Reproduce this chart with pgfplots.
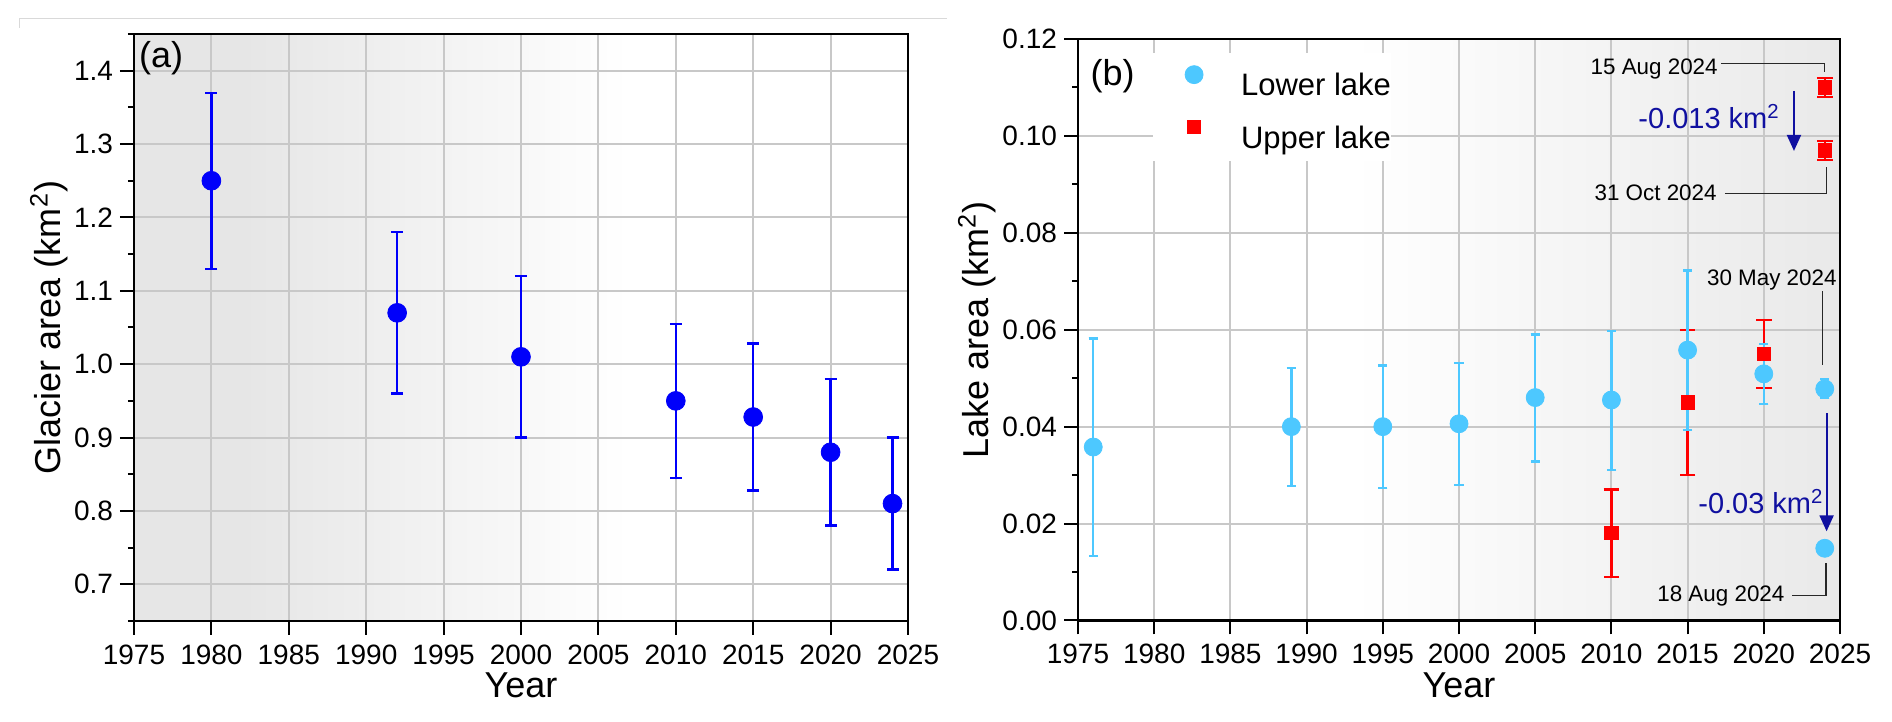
\documentclass[border=0pt]{standalone}
\usepackage{fontspec}
\setmainfont{Liberation Sans}
\usepackage{pgfplots}
\usepackage{pgfplotstable}
\pgfplotsset{compat=1.18}
\usetikzlibrary{arrows.meta}

\definecolor{blueA}{RGB}{0,0,250}
\definecolor{cyanC}{RGB}{77,200,255}
\definecolor{redC}{RGB}{255,0,0}
\definecolor{navyC}{RGB}{16,16,160}
\definecolor{gridC}{RGB}{200,200,200}
\definecolor{gA}{RGB}{230,230,230}
\definecolor{gB}{RGB}{233,233,233}
\definecolor{leadC}{RGB}{40,40,40}

\pgfdeclarehorizontalshading{shadeA}{100bp}{color(0bp)=(gA); color(32bp)=(gA); color(57bp)=(white); color(100bp)=(white)}
\pgfdeclarehorizontalshading{shadeB}{100bp}{color(0bp)=(white); color(43bp)=(white); color(75bp)=(gB); color(100bp)=(gB)}

\pgfplotstableread{
x y ep em
1980 1.25 0.12 0.12
1992 1.07 0.11 0.11
2000 1.01 0.11 0.11
2010 0.95 0.105 0.105
2015 0.928 0.10 0.10
2020 0.88 0.10 0.10
2024 0.81 0.09 0.09
}\dataA

\pgfplotstableread{
x y ep em
1976 0.0358 0.0224 0.0225
1989 0.0400 0.0121 0.0122
1995 0.0400 0.0126 0.0126
2000 0.0406 0.0125 0.0126
2005 0.0460 0.0130 0.0132
2010 0.0455 0.0142 0.0144
2015 0.0558 0.0164 0.0165
2020 0.0509 0.0062 0.0062
2024 0.0478 0.0020 0.0019
}\dataLower

\pgfplotstableread{
x y ep em
2010 0.018 0.009 0.009
2015 0.045 0.015 0.015
2020 0.055 0.007 0.007
2024 0.110 0.002 0.002
2024 0.097 0.002 0.002
}\dataUpper

\newcommand{\annfont}{\fontsize{11.2}{13}\selectfont}
\newcommand{\difffont}{\fontsize{14.5}{17}\selectfont}

\pgfplotsset{
  myaxis/.style={
    scale only axis,
    anchor=south west,
    axis line style={line width=1.25pt, black},
    tick align=outside,
    tick pos=left,
    major tick length=7pt,
    minor tick length=3pt,
    major tick style={line width=1pt, black},
    minor tick style={line width=1pt, black},
    grid=major,
    major grid style={draw=gridC, line width=1pt},
    xmin=1975, xmax=2025,
    xtick={1975,1980,1985,1990,1995,2000,2005,2010,2015,2020,2025},
    /pgf/number format/assume math mode=true,
    /pgf/number format/1000 sep={},
    xticklabel style={font=\fontsize{14}{16}\selectfont, yshift=-1.3pt},
    yticklabel style={font=\fontsize{14}{16}\selectfont},
    xlabel style={at={([yshift=-38.5pt]rel axis cs:0.5,0)}, anchor=base, inner sep=0pt, font=\fontsize{18}{21}\selectfont},
    xlabel={Year},
  }
}

\begin{document}
\begin{tikzpicture}
\useasboundingbox (0pt,0pt) rectangle (946pt,361pt);
\draw[gray!30, line width=0.5pt] (9.5pt,347pt) -- (9.5pt,351.5pt) -- (473.5pt,351.5pt);

% ---------------- panel (a)
\begin{axis}[myaxis,
  at={(67pt,50.5pt)}, width=387pt, height=293.5pt,
  ymin=0.65, ymax=1.45,
  ytick={0.7,0.8,0.9,1.0,1.1,1.2,1.3,1.4},
  minor ytick={0.65,0.75,0.85,0.95,1.05,1.15,1.25,1.35,1.45},
  yticklabel style={/pgf/number format/fixed, /pgf/number format/precision=1, /pgf/number format/fixed zerofill},
  axis background/.style={shading=shadeA},
  ylabel={Glacier area (km\textsuperscript{2})},
  ylabel style={at={([xshift=-33pt]rel axis cs:0,0.5)}, anchor=south, inner sep=0pt, font=\fontsize{18}{21}\selectfont},
]
\addplot[blueA, only marks, mark=*, mark size=4.7pt, line width=0.4pt,
  error bars/.cd, y dir=both, y explicit,
  error bar style={line width=1.2pt, blueA},
  error mark options={rotate=90, line width=1.2pt, mark size=3pt, blueA}]
  table[x=x, y=y, y error plus=ep, y error minus=em] {\dataA};
\node[anchor=base west, inner sep=0pt, font=\fontsize{18}{21}\selectfont] at (axis cs:1975.3,1.404) {(a)};
\end{axis}

% ---------------- panel (b)
\begin{axis}[myaxis,
  at={(539pt,50.75pt)}, width=381pt, height=290.75pt,
  ymin=0, ymax=0.12,
  ytick={0,0.02,0.04,0.06,0.08,0.10,0.12},
  minor ytick={0.01,0.03,0.05,0.07,0.09,0.11},
  yticklabel style={/pgf/number format/fixed, /pgf/number format/precision=2, /pgf/number format/fixed zerofill},
  axis background/.style={shading=shadeB},
  ylabel={Lake area (km\textsuperscript{2})},
  ylabel style={at={([xshift=-41pt]rel axis cs:0,0.5)}, anchor=south, inner sep=0pt, font=\fontsize{18}{21}\selectfont},
  legend style={at={(axis cs:1979.9,0.1171)}, anchor=north west, fill=white, draw=none,
    inner xsep=0pt, inner ysep=5pt, font=\fontsize{15.5}{18}\selectfont,
    row sep=8.7pt, column sep=3pt, nodes={inner sep=0pt}},
  legend cell align=left,
  legend image code/.code={\path[draw=none, fill=none] (0pt,0pt) rectangle (41pt,11.2pt); \draw plot coordinates {(20.5pt,5.6pt)};},
]
\addplot[cyanC, only marks, mark=*, mark size=4.5pt, line width=0.4pt,
  error bars/.cd, y dir=both, y explicit,
  error bar style={line width=1.2pt, cyanC},
  error mark options={rotate=90, line width=1.2pt, mark size=2.3pt, cyanC}]
  table[x=x, y=y, y error plus=ep, y error minus=em] {\dataLower};
\addlegendentry{Lower lake}
\addplot[redC, only marks, mark=square*, mark size=3.3pt, line width=0.4pt,
  error bars/.cd, y dir=both, y explicit,
  error bar style={line width=1.2pt, redC},
  error mark options={rotate=90, line width=1.2pt, mark size=3.9pt, redC}]
  table[x=x, y=y, y error plus=ep, y error minus=em] {\dataUpper};
\addlegendentry{Upper lake}
% cyan error bars again on top
\addplot[forget plot, cyanC, draw=none, no marks,
  error bars/.cd, y dir=both, y explicit,
  error bar style={line width=1.2pt, draw=cyanC},
  error mark options={rotate=90, line width=1.2pt, mark size=2.3pt, draw=cyanC}]
  table[x=x, y=y, y error plus=ep, y error minus=em] {\dataLower};
% 18 Aug 2024 lower lake
\addplot[forget plot, cyanC, only marks, mark=*, mark size=4.5pt, line width=0.4pt]
  coordinates {(2024,0.0149)};

\node[anchor=base west, inner sep=0pt, font=\fontsize{18}{21}\selectfont] at (axis cs:1975.8,0.1105) {(b)};

\node[anchor=base east, inner sep=0pt, font=\annfont] at (axis cs:2017.0,0.1126) {15 Aug 2024};
\draw[leadC, line width=0.6pt] (axis cs:2017.2,0.1150) -| (axis cs:2024,0.1132);
\node[anchor=base east, inner sep=0pt, font=\annfont] at (axis cs:2016.93,0.0867) {31 Oct 2024};
\draw[leadC, line width=0.6pt] (axis cs:2017.45,0.0881) -| (axis cs:2024.1,0.0936);
\node[anchor=base west, inner sep=0pt, font=\difffont, text=navyC] at (axis cs:2011.75,0.1015) {-0.013 km\textsuperscript{2}};
\draw[navyC, line width=1pt, -{Triangle[length=8pt,width=7pt]}] (axis cs:2021.98,0.1093) -- (axis cs:2021.98,0.0969);

\node[anchor=base west, inner sep=0pt, font=\annfont] at (axis cs:2016.25,0.0692) {30 May 2024};
\draw[leadC, line width=0.6pt] (axis cs:2023.84,0.0679) -- (axis cs:2023.84,0.0527);
\node[anchor=base west, inner sep=0pt, font=\difffont, text=navyC] at (axis cs:2015.68,0.0220) {-0.03 km\textsuperscript{2}};
\draw[navyC, line width=1pt, -{Triangle[length=8pt,width=7pt]}] (axis cs:2024.12,0.0428) -- (axis cs:2024.12,0.0184);
\node[anchor=base west, inner sep=0pt, font=\annfont] at (axis cs:2012.99,0.0040) {18 Aug 2024};
\draw[leadC, line width=0.6pt] (axis cs:2021.85,0.00516) -| (axis cs:2024.08,0.0118);
\end{axis}
\end{tikzpicture}
\end{document}
